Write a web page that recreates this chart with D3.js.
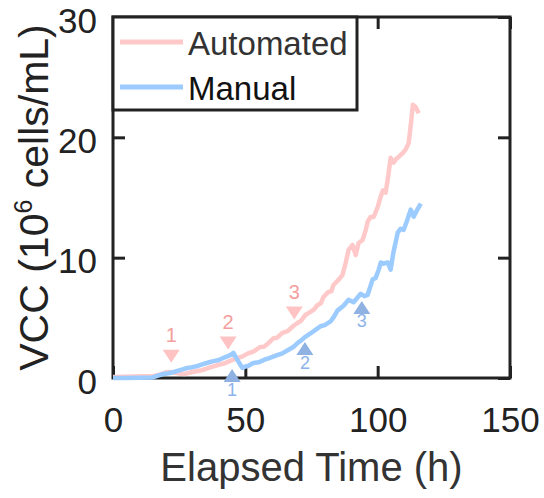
<!DOCTYPE html>
<html><head><meta charset="utf-8">
<script src="https://cdn.jsdelivr.net/npm/d3@7"></script>
<style>body{margin:0;background:#fff}svg{display:block}text{font-family:"Liberation Sans",Arial,sans-serif}</style>
</head><body>
<svg id="c" width="544" height="498"></svg>
<script>
const xTicks = [0, 50, 100, 150];
const yTicks = [0, 10, 20, 30];
const seriesNames = ["Automated", "Manual"];
const autoT = [0, 4, 8, 12, 15, 18, 20.5, 23, 25, 27, 30, 33, 35, 37, 40, 42, 44, 47, 49, 51, 53, 55.7, 57, 58.5, 60.6, 62, 64, 66, 68, 69.7, 71, 72.7, 74.6, 76, 77.3, 78.5, 79.5, 81.4, 82.5, 83.3, 85.2, 86.7, 87.9, 89, 90.5, 91.7, 92.8, 94.3, 95.5, 96.2, 97.3, 98.5, 100, 101.1, 102, 103, 104, 104.9, 106, 107, 108, 109.5, 110.6, 111.7, 112.5, 113.3, 114.4, 115.5];
const autoV = [0.08, 0.1, 0.12, 0.14, 0.15, 0.3, 0.5, 0.45, 0.38, 0.33, 0.5, 0.62, 0.75, 0.9, 1.1, 1.2, 1.4, 1.66, 1.8, 2.05, 2.2, 2.58, 2.6, 2.85, 3.3, 3.35, 3.75, 3.9, 4.3, 4.57, 4.75, 5.24, 5.49, 5.7, 6.07, 6.2, 6.73, 7.15, 7.2, 7.73, 8.15, 8.56, 9.56, 10.64, 11.06, 10.22, 11.22, 11.47, 12.3, 12.97, 13.38, 13.38, 14.2, 15.05, 15.6, 15.4, 16.8, 18.3, 17.9, 18.2, 18.4, 18.7, 19.0, 19.5, 21.0, 22.7, 22.5, 22.0];
const manT = [0, 5, 10, 15, 17, 19, 21, 23, 26, 28, 30, 32, 34, 36.7, 38, 40, 42, 44.3, 45.5, 47, 48.9, 50, 51, 53, 55, 57, 59, 62, 64, 66, 68, 69.7, 71, 72.5, 74.6, 76.5, 78.4, 80, 82.2, 83.5, 84.8, 87.1, 89, 90.9, 93.6, 95, 96.2, 98.1, 99.2, 100.4, 101.2, 102.3, 103.8, 104.9, 106, 107.6, 108.7, 109.8, 111, 112.5, 113.6, 115, 116.3];
const manV = [0, 0, 0.02, 0.05, 0.2, 0.33, 0.4, 0.5, 0.7, 0.83, 0.9, 1.0, 1.15, 1.33, 1.4, 1.5, 1.7, 1.9, 2.08, 1.5, 0.83, 0.95, 1.0, 1.25, 1.3, 1.5, 1.65, 1.9, 2.05, 2.3, 2.55, 2.9, 3.1, 3.4, 3.7, 4.0, 4.3, 4.4, 4.7, 5.1, 5.6, 6.0, 6.5, 6.3, 7.0, 6.8, 6.9, 8.2, 8.3, 9.0, 9.6, 9.5, 9.6, 9.0, 10.5, 12.1, 12.4, 12.3, 13.0, 14.0, 13.4, 14.0, 14.5];
const markLabels = ["1", "2", "3"];
const autoMarkT = [22, 43.5, 68.5];
const autoMarkV = [1.8, 2.9, 5.4];
const manMarkT = [45, 72.5, 94];
const manMarkV = [0.2, 2.45, 5.86];

const L = 113, R = 510, T = 17, B = 378;
const x = d3.scaleLinear().domain([0, 150]).range([L, R]);
const y = d3.scaleLinear().domain([0, 30]).range([B, T]);
const svg = d3.select("#c");
const ink = "#222";

const line = d3.line().x(d => x(d[0])).y(d => y(d[1]));
const autoData = autoT.map((t, i) => [t, autoV[i]]);
const manData = manT.map((t, i) => [t, manV[i]]);
const colA = "#ffc9c9", colM = "#9ccbff";

// axes
const g = svg.append("g");
g.append("g").attr("transform", `translate(0,${B})`)
  .call(d3.axisBottom(x).tickValues(xTicks).tickSize(-12).tickPadding(29))
  .call(s => { s.select(".domain").remove(); s.selectAll(".tick line").attr("stroke", ink).attr("stroke-width", 3);
    s.selectAll("text").attr("font-size", 35).attr("fill", ink); });
g.append("g").attr("transform", `translate(0,${T})`)
  .call(d3.axisTop(x).tickValues(xTicks).tickSize(-12).tickFormat(""))
  .call(s => { s.select(".domain").remove(); s.selectAll(".tick line").attr("stroke", ink).attr("stroke-width", 3); });
g.append("g").attr("transform", `translate(${L},0)`)
  .call(d3.axisLeft(y).tickValues(yTicks).tickSize(-12).tickPadding(16))
  .call(s => { s.select(".domain").remove(); s.selectAll(".tick line").attr("stroke", ink).attr("stroke-width", 3);
    s.selectAll("text").attr("font-size", 35).attr("fill", ink).attr("dy", "0.43em"); });
g.append("g").attr("transform", `translate(${R},0)`)
  .call(d3.axisRight(y).tickValues(yTicks).tickSize(-12).tickFormat(""))
  .call(s => { s.select(".domain").remove(); s.selectAll(".tick line").attr("stroke", ink).attr("stroke-width", 3); });
svg.append("rect").attr("x", L).attr("y", T).attr("width", R - L).attr("height", B - T)
  .attr("fill", "none").attr("stroke", ink).attr("stroke-width", 3);

// lines
svg.append("path").datum(autoData).attr("d", line).attr("fill", "none").attr("stroke", colA).attr("stroke-width", 4.5).attr("stroke-linejoin", "round");
svg.append("path").datum(manData).attr("d", line).attr("fill", "none").attr("stroke", colM).attr("stroke-width", 4.5).attr("stroke-linejoin", "round");

// markers
const tri = (cx, cy, down) => {
  const w = 8.5, h = 6.5;
  return down ? `M${cx - w},${cy - h}L${cx + w},${cy - h}L${cx},${cy + h}Z`
              : `M${cx - w},${cy + h}L${cx + w},${cy + h}L${cx},${cy - h}Z`;
};
autoMarkT.forEach((t, i) => {
  const cx = x(t), cy = y(autoMarkV[i]);
  svg.append("path").attr("d", tri(cx, cy, true)).attr("fill", "#ffbcbc").attr("opacity", 0.9);
  svg.append("text").attr("x", cx).attr("y", cy - 14).attr("text-anchor", "middle").attr("font-size", 20).attr("fill", "#f49e9e").text(markLabels[i]);
});
manMarkT.forEach((t, i) => {
  const cx = x(t), cy = y(manMarkV[i]);
  svg.append("path").attr("d", tri(cx, cy, false)).attr("fill", "#8fb2e2");
  svg.append("text").attr("x", cx).attr("y", cy + 20).attr("text-anchor", "middle").attr("font-size", 18).attr("fill", "#8db2ea").text(markLabels[i]);
});

// legend
const lg = svg.append("g");
lg.append("rect").attr("x", L).attr("y", T).attr("width", 244).attr("height", 93).attr("fill", "#fff").attr("stroke", ink).attr("stroke-width", 3);
[colA, colM].forEach((c, i) => {
  const yy = 42 + i * 45;
  lg.append("line").attr("x1", 120).attr("x2", 183).attr("y1", yy).attr("y2", yy).attr("stroke", c).attr("stroke-width", 5);
  lg.append("text").attr("x", 188).attr("y", yy + 13).attr("font-size", 33).attr("fill", i === 0 ? "#333" : "#111").text(seriesNames[i]);
});

// titles
svg.append("text").attr("x", (L + R) / 2).attr("y", 481).attr("text-anchor", "middle").attr("font-size", 40).attr("fill", "#333").text("Elapsed Time (h)");
const yt = svg.append("text").attr("transform", `translate(48,${(T + B) / 2}) rotate(-90)`).attr("text-anchor", "middle").attr("font-size", 41).attr("fill", ink);
yt.append("tspan").text("VCC (10");
yt.append("tspan").attr("font-size", 25).attr("dy", -16).text("6");
yt.append("tspan").attr("dy", 16).text(" cells/mL)");
</script>
</body></html>
